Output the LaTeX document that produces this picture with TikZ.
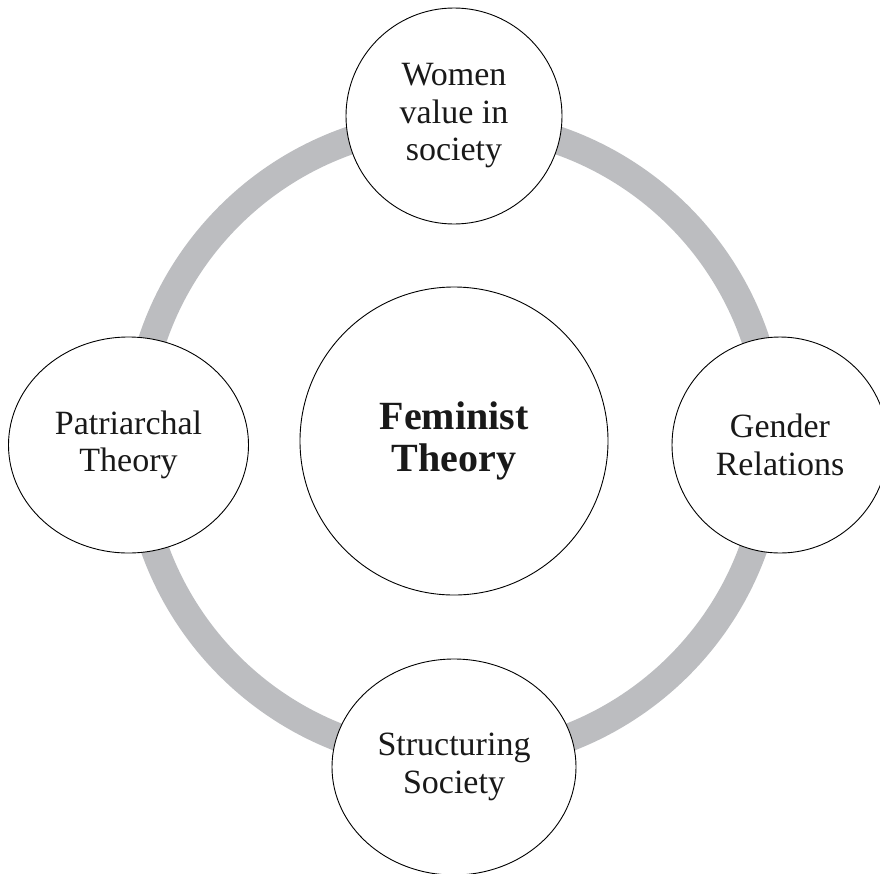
\documentclass[tikz,border=0pt]{standalone}
\usepackage{fontspec}
\setmainfont{Liberation Serif}
\usetikzlibrary{shapes.geometric}

\definecolor{ringgray}{HTML}{BCBDC0}

\tikzset{
  topic/.style={ellipse, draw=black, line width=0.9pt, fill=white,
    inner sep=0pt, align=center, text=black!90,
    font=\fontsize{34}{37.5}\selectfont},
  hubnode/.style={topic, font=\bfseries\fontsize{40}{42}\selectfont},
  ring/.style={draw=ringgray, line width=28pt}
}

\begin{document}
\begin{tikzpicture}[x=1pt, y=-1pt]
  \useasboundingbox (0,0) rectangle (880,873);

  % grey loop joining the four themes
  \coordinate (hub) at (454,441);
  \draw[ring] (hub) circle[radius=318pt];

  % central concept
  \node[hubnode, minimum width=308pt, minimum height=308pt] (core) at (hub)
    {Feminist\\Theory};

  % surrounding themes
  \node[topic, minimum width=216pt, minimum height=216pt] (women) at (454,116)
    {Women\\value in\\society};
  \node[topic, minimum width=240pt, minimum height=216pt] (patriarchy) at (128.5,445)
    {Patriarchal\\Theory};
  \node[topic, minimum width=216pt, minimum height=216pt] (gender) at (780,445)
    {Gender\\Relations};
  \node[topic, minimum width=244pt, minimum height=216pt] (structuring) at (454,767)
    {Structuring\\Society};
\end{tikzpicture}
\end{document}
